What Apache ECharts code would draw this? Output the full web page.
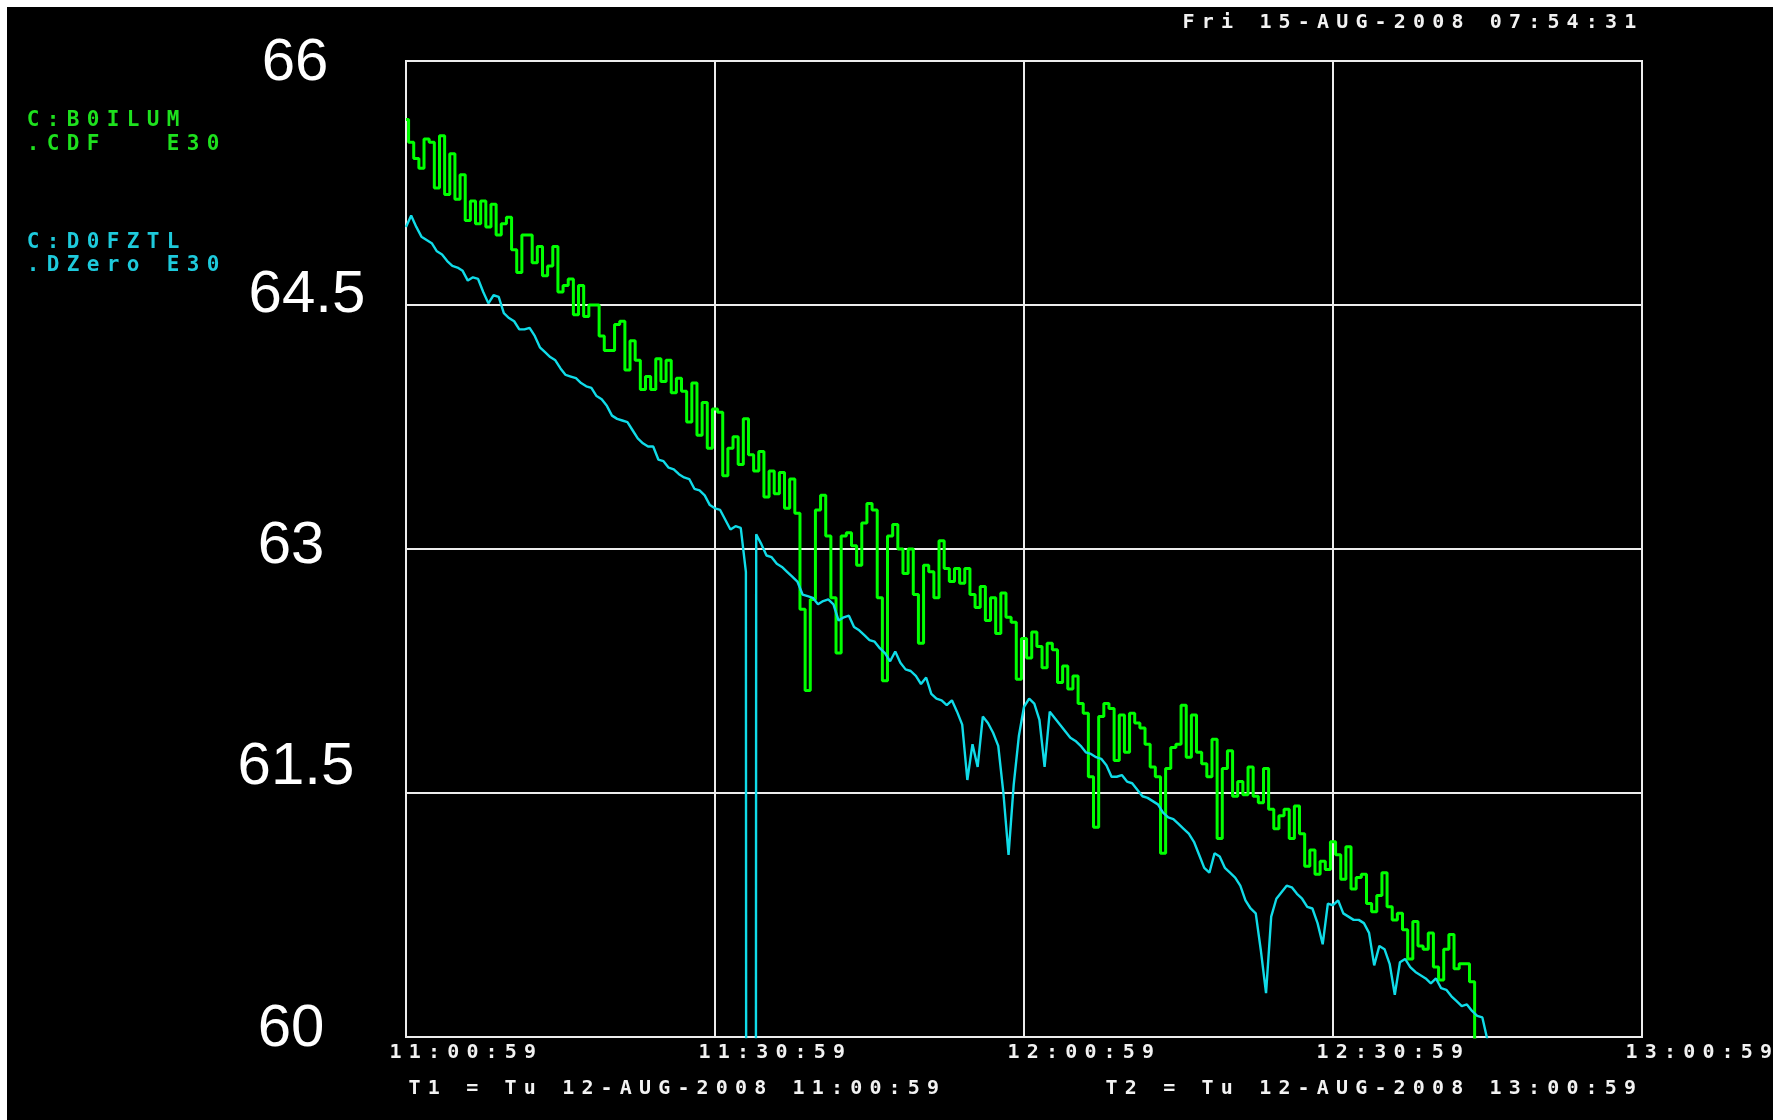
<!DOCTYPE html>
<html>
<head>
<meta charset="utf-8">
<script src="https://cdn.jsdelivr.net/npm/echarts@6/dist/echarts.min.js"></script>
<style>
html,body{margin:0;padding:0;background:#fff;width:1773px;height:1120px;overflow:hidden}
#chart{position:absolute;left:7px;top:7px;width:1766px;height:1113px;background:#000}
</style>
</head>
<body>
<div id="chart"></div>
<script>
// ---------------- data ----------------
const xTickLabels = ['11:00:59', '11:30:59', '12:00:59', '12:30:59', '13:00:59'];
const yTickLabels = ['60', '61.5', '63', '64.5', '66'];
const headerText = 'Fri 15-AUG-2008 07:54:31';
const t1Text = 'T1 = Tu 12-AUG-2008 11:00:59';
const t2Text = 'T2 = Tu 12-AUG-2008 13:00:59';
const legendB0 = ['C:B0ILUM', '.CDF   E30'];
const legendD0 = ['C:D0FZTL', '.DZero E30'];
const sampleStepMin = 0.5; // minutes between samples, starting at T1

const b0ilum = [
65.64,65.50,65.40,65.34,65.52,65.50,65.22,65.54,65.18,65.43,
65.15,65.30,65.02,65.14,65.00,65.14,64.98,65.12,64.93,65.00,
65.04,64.84,64.70,64.93,64.93,64.76,64.86,64.68,64.74,64.86,
64.58,64.62,64.66,64.44,64.62,64.43,64.50,64.50,64.31,64.22,
64.22,64.38,64.40,64.10,64.28,64.16,63.98,64.06,63.98,64.17,
64.03,64.16,63.96,64.05,63.97,63.78,64.02,63.70,63.90,63.62,
63.86,63.84,63.45,63.62,63.69,63.52,63.80,63.58,63.48,63.60,
63.32,63.48,63.34,63.47,63.25,63.43,63.22,62.63,62.13,62.69,
63.24,63.33,63.08,62.70,62.36,63.08,63.10,63.02,62.90,63.16,
63.28,63.24,62.70,62.19,63.08,63.15,63.00,62.85,63.00,62.72,
62.42,62.90,62.86,62.70,63.05,62.88,62.80,62.88,62.79,62.88,
62.72,62.64,62.77,62.56,62.70,62.48,62.73,62.58,62.55,62.20,
62.45,62.33,62.49,62.40,62.27,62.42,62.38,62.18,62.28,62.14,
62.22,62.05,61.99,61.60,61.29,61.97,62.05,62.02,61.70,61.98,
61.75,61.99,61.93,61.90,61.80,61.66,61.60,61.13,61.65,61.78,
61.80,62.04,61.72,61.98,61.75,61.68,61.60,61.83,61.22,61.65,
61.76,61.48,61.57,61.49,61.66,61.48,61.44,61.65,61.40,61.28,
61.36,61.40,61.22,61.42,61.25,61.05,61.15,61.00,61.08,61.03,
61.20,61.12,60.97,61.17,60.91,60.98,61.00,60.82,60.77,60.87,
61.01,60.80,60.72,60.76,60.66,60.48,60.71,60.56,60.54,60.64,
60.43,60.35,60.54,60.63,60.42,60.45,60.45,60.34,59.98
];

const d0fztl = [
64.98,65.05,64.98,64.92,64.90,64.88,64.83,64.81,64.77,64.74,
64.73,64.71,64.65,64.67,64.66,64.58,64.51,64.56,64.55,64.45,
64.42,64.40,64.35,64.35,64.36,64.31,64.24,64.21,64.18,64.16,
64.11,64.07,64.06,64.05,64.02,64.00,63.99,63.94,63.92,63.88,
63.82,63.80,63.79,63.78,63.73,63.68,63.65,63.63,63.63,63.55,
63.54,63.50,63.49,63.46,63.44,63.43,63.37,63.36,63.33,63.27,
63.25,63.24,63.18,63.12,63.14,63.13,62.86,0,63.09,63.03,
62.96,62.95,62.91,62.89,62.86,62.83,62.80,62.72,62.71,62.70,
62.66,62.68,62.69,62.66,62.56,62.58,62.59,62.52,62.50,62.47,
62.44,62.43,62.39,62.36,62.31,62.37,62.30,62.26,62.25,62.22,
62.17,62.21,62.11,62.08,62.07,62.04,62.07,62.00,61.92,61.58,
61.80,61.66,61.97,61.93,61.87,61.79,61.50,61.12,61.55,61.85,
62.03,62.08,62.05,61.95,61.66,62.00,61.96,61.92,61.88,61.84,
61.82,61.79,61.75,61.74,61.72,61.71,61.67,61.60,61.60,61.61,
61.57,61.56,61.52,61.48,61.47,61.45,61.43,61.38,61.35,61.34,
61.31,61.28,61.25,61.20,61.12,61.04,61.01,61.13,61.11,61.04,
61.01,60.98,60.93,60.84,60.79,60.76,60.53,60.27,60.74,60.85,
60.89,60.93,60.92,60.88,60.85,60.80,60.79,60.70,60.57,60.82,
60.81,60.84,60.76,60.74,60.72,60.72,60.70,60.64,60.44,60.56,
60.54,60.45,60.26,60.46,60.48,60.43,60.40,60.38,60.36,60.33,
60.36,60.30,60.29,60.25,60.22,60.19,60.20,60.16,60.13,60.12,
59.98
];

// ---------------- styling ----------------
const GREEN = '#00ff00';
const CYAN = '#10dbe8';
const GREEN_TXT = '#1ee11e';
const CYAN_TXT = '#1ecadc';
const WHITE = '#f2f2f2';
const MONO = "'DejaVu Sans Mono', 'Liberation Mono', monospace";
const CELL = 19.2;

function spaced(str, key) {
  return str.split('').map(function (ch) { return '{' + key + '|' + ch + '}'; }).join('');
}
function cellStyle(color, size, cell) {
  return { width: cell, align: 'center', fontFamily: MONO, fontSize: size, fontWeight: 'bold',
           fill: color, color: color };
}

// per-label offset of the big y labels [dx, dy]
const yLabelShift = { '60': [-5, -8], '61.5': [0, -26], '63': [-5, -3], '64.5': [11, -10], '66': [-1, 2] };
const yRich = {};
yTickLabels.forEach(function (lab, k) {
  const s = yLabelShift[lab] || [0, 0];
  const padL = s[0] > 0 ? 2 * s[0] : 0, padR = s[0] < 0 ? -2 * s[0] : 0;
  const padT = s[1] > 0 ? 2 * s[1] : 0, padB = s[1] < 0 ? -2 * s[1] : 0;
  yRich['y' + k] = {
    fontFamily: "'Liberation Sans', Arial, sans-serif", fontSize: 60, color: '#ffffff',
    padding: [padT, padR, padB, padL]
  };
});

function toPairs(arr) {
  return arr.map(function (v, i) { return [i * sampleStepMin, v]; });
}

const chart = echarts.init(document.getElementById('chart'), null, { renderer: 'canvas' });

function textEl(str, key, x, y, color, size, cell) {
  const rich = {};
  rich[key] = cellStyle(color, size, cell);
  return {
    type: 'text', x: x, y: y, silent: true,
    style: { text: spaced(str, key), rich: rich, align: 'left', verticalAlign: 'middle', fill: color }
  };
}

const option = {
  backgroundColor: '#000000',
  animation: false,
  grid: { left: 399, top: 54, width: 1236, height: 976, show: true, borderColor: '#ececec', borderWidth: 2,
          backgroundColor: 'transparent', outerBoundsMode: 'none', containLabel: false },
  xAxis: {
    type: 'value', min: 0, max: 120, interval: 30,
    axisLine: { show: false }, axisTick: { show: false },
    splitLine: { show: true, lineStyle: { color: '#ececec', width: 2 } },
    axisLabel: {
      margin: 6, align: 'center', padding: [0, 0, 0, 113.6],
      formatter: function (v) { return spaced(xTickLabels[Math.round(v / 30)] || '', 'm'); },
      rich: { m: cellStyle(WHITE, 20, CELL) }
    }
  },
  yAxis: {
    type: 'value', min: 60, max: 66, interval: 1.5,
    axisLine: { show: false }, axisTick: { show: false },
    splitLine: { show: true, lineStyle: { color: '#ececec', width: 2 } },
    axisLabel: {
      margin: 110, align: 'center', verticalAlign: 'middle',
      formatter: function (v) {
        const k = Math.round((v - 60) / 1.5);
        return '{y' + k + '|' + yTickLabels[k] + '}';
      },
      rich: yRich
    }
  },
  series: [
    { name: 'C:B0ILUM .CDF', type: 'line', step: 'middle', showSymbol: false, clip: true,
      lineStyle: { color: GREEN, width: 3 }, itemStyle: { color: GREEN },
      data: toPairs(b0ilum), z: 2 },
    { name: 'C:D0FZTL .DZero', type: 'line', showSymbol: false, clip: true,
      lineStyle: { color: CYAN, width: 2.4 }, itemStyle: { color: CYAN },
      data: toPairs(d0fztl), z: 3 }
  ],
  graphic: [
    textEl(headerText, 'h', 1172, 16, WHITE, 20, CELL),
    textEl(t1Text, 'a', 398, 1082, WHITE, 20, CELL),
    textEl(t2Text, 'b', 1095, 1082, WHITE, 20, CELL),
    textEl(legendB0[0], 'g', 16, 113.5, GREEN_TXT, 21, 20),
    textEl(legendB0[1], 'g', 16, 137.5, GREEN_TXT, 21, 20),
    textEl(legendD0[0], 'c', 16, 235.5, CYAN_TXT, 21, 20),
    textEl(legendD0[1], 'c', 16, 259, CYAN_TXT, 21, 20)
  ]
};
chart.setOption(option);
</script>
</body>
</html>
